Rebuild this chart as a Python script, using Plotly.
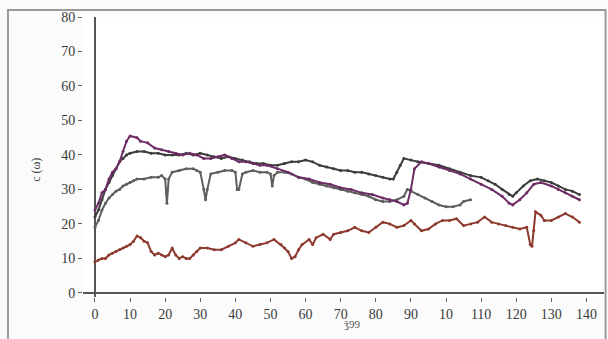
import plotly.graph_objects as go

# ---- data ----
x_purple = [0,1,2,3,4,5,6,7,8,9,10,12,13,15,17,19,21,23,25,27,29,31,33,35,37,39,41,43,45,47,49,52,55,58,61,64,67,70,73,76,79,82,84,86,88,89,90,91,93,95,98,101,104,107,110,113,116,118,119,121,123,125,127,130,132,134,136,138]
y_purple = [24,26,29,30,33,35,36,38,41,44,45.5,45,44,43.5,42,41.5,41,40.5,40,40.5,40,39,39,39.5,40,39,38,38,37.5,37,37,36,35,33.5,33,32,31.5,30.5,30,29,28.5,27.5,27,26.5,25.5,26,30,36,38,37.5,36.5,35.5,34.5,33,31.5,30,28,26,25.5,27,29,31.5,32,31,30,29,28,27]

x_dark = [0,1,2,3,4,5,6,7,8,9,10,12,14,16,18,20,22,24,26,28,30,32,34,36,38,40,42,44,46,48,50,52,54,56,58,60,62,64,66,68,70,72,74,76,78,80,82,84,85,86,87,88,90,92,95,98,101,104,107,110,112,114,116,118,119,120,122,124,126,128,130,132,134,136,138]
y_dark = [22,24,27,30,32,34,36,38,39,40,40.5,41,41,40.5,40.5,40,40,40,40.5,40,40.5,40,39.5,39,39.5,39,38.5,38,37.5,37.5,37,37,37.5,38,38,38.5,38,37,36.5,36,35.5,35.5,35,35,34.5,34,33.5,33,33,35,37,39,38.5,38,37.5,37,36,35,34,33.5,32.5,31.5,30,28.5,28,29,31,32.5,33,32.5,32,31,30,29.5,28.5]

x_gray = [0,1,2,3,4,5,6,7,8,9,10,11,12,14,16,18,19,20,20.5,21,22,24,26,28,29,30,31,31.5,32,33,35,37,39,40,40.5,41,42,43,45,47,49,50,50.5,51,52,54,56,58,60,62,64,66,68,70,72,74,76,78,80,82,84,86,88,89,90,92,94,96,98,100,102,104,105,107]
y_gray = [19,21,24,26,27.5,28.5,29.5,30,31,31.5,32,32.5,33,33,33.5,33.5,34,33,26,33,35,35.5,36,36,35.5,35,30,27,30,34.5,35,35.5,35.5,35,30,30,34.5,35,35.5,35,35,34.5,31,34,35,35,34.5,33.5,33,32,31.5,31,30.5,30,29.5,29,28.5,28,27,26.5,26.5,27,28,30,29.5,28.5,27.5,26.5,25.5,25,25,25.5,26.5,27]

x_red = [0,1,2,3,4,5,6,7,8,9,10,11,12,13,14,15,16,17,18,19,20,21,22,23,24,25,26,27,28,29,30,32,34,36,38,40,41,43,45,47,49,51,53,54,55,56,57,58,59,61,62,63,65,67,68,70,72,74,76,78,80,82,84,86,88,90,91,93,95,97,99,101,103,105,107,109,111,113,115,117,119,121,123,124,124.5,125,125.5,127,128,130,132,134,136,138]
y_red = [9,9.5,10,10,11,11.5,12,12.5,13,13.5,14,15,16.5,16,15,14.5,12,11,11.5,11,10.5,11,13,11,10,10.5,10,10,11,12,13,13,12.5,12.5,13.5,14.5,15.5,14.5,13.5,14,14.5,15.5,14,13,12,10,10.5,12.5,14,15.5,14,16,17,15.5,17,17.5,18,19,18,17.5,19,20.5,20,19,19.5,21,20,18,18.5,20,21,21,21.5,19.5,20,20.5,22,20.5,20,19.5,19,18.5,19,14,13.5,18,23.5,22.5,21,21,22,23,22,20.5]

x_ticks = [0,10,20,30,40,50,60,70,80,90,100,110,120,130,140]
x_ticktext = ["0","10","20","30","40","50","60","70","80","90","10","110","120","130","140"]
y_ticks = [0,10,20,30,40,50,60,70,80]

fig = go.Figure()
series = [
    (x_gray, y_gray, "#5e5e5e"),
    (x_dark, y_dark, "#3c3c3c"),
    (x_purple, y_purple, "#6e2c66"),
    (x_red, y_red, "#8e3a2e"),
]
for xs, ys, col in series:
    fig.add_trace(go.Scatter(x=xs, y=ys, mode="lines+markers",
                             line=dict(color=col, width=2),
                             marker=dict(color=col, size=3),
                             showlegend=False, hoverinfo="skip"))

font = dict(family="Liberation Serif, serif", size=14, color="#3a3a3a")
fig.update_layout(
    width=608, height=339,
    margin=dict(l=83, r=4, t=17, b=42),
    paper_bgcolor="#fbfbfb", plot_bgcolor="#ffffff",
    font=font,
    xaxis=dict(range=[-3.4, 145], tickvals=x_ticks, ticktext=x_ticktext,
               showgrid=False, showline=False, zeroline=True,
               zerolinecolor="#555555", zerolinewidth=1.5,
               ticks="outside", ticklen=4, tickcolor="#666666", tickfont=font),
    yaxis=dict(range=[-1.2, 80], tickvals=y_ticks,
               showgrid=False, showline=False, zeroline=True,
               zerolinecolor="#555555", zerolinewidth=1.5,
               ticks="outside", ticklen=4, tickcolor="#666666", tickfont=font),
    shapes=[
        dict(type="rect", xref="paper", yref="paper",
             x0=-0.144, x1=1.003, y0=-0.3, y1=1.025,
             line=dict(color="#9a9a9a", width=2)),
    ],
    annotations=[
        dict(text="c (ω)", xref="paper", yref="paper", x=-0.1075, y=0.454,
             showarrow=False, textangle=-90, font=dict(family="Liberation Serif, serif", size=12, color="#444444")),
        dict(text="ǯ99", xref="paper", yref="paper", x=0.516, y=-0.125,
             showarrow=False, font=dict(family="Liberation Serif, serif", size=11, color="#555555")),
    ],
)

fig.write_html("out.html")
